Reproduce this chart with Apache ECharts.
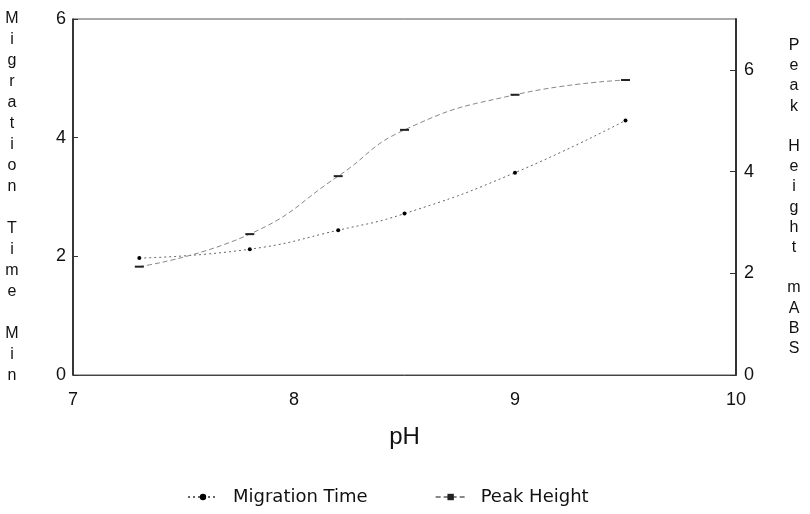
<!DOCTYPE html>
<html>
<head>
<meta charset="utf-8">
<script src="https://cdn.jsdelivr.net/npm/echarts@6/dist/echarts.min.js"></script>
<style>
html, body { margin: 0; padding: 0; background: #fff; }
#zoom { width: 810px; height: 514px; }
</style>
</head>
<body>
<div id="zoom"></div>
<script>
// x 轴数据
const phValues = [7.3, 7.8, 8.2, 8.5, 9.0, 9.5]
// 左轴: 迁移时间 (Min)
const migrationTime = [1.97, 2.12, 2.44, 2.72, 3.41, 4.29]
// 右轴: 峰高 (mABS)
const peakHeight = [2.13, 2.77, 3.91, 4.82, 5.51, 5.80]
// 坐标轴文字
const leftTitle = 'Migration Time Min'
const rightTitle = 'Peak Height mABS'

const FONT = 'Liberation Sans'

// 竖排文字: 每个字母一行, 单词之间空一行
const stack = (s) => s.split(' ').map(w => w.split('').join('\n')).join('\n\n')

const pairs = (ys) => phValues.map((x, i) => [x, ys[i]])

const myChart = echarts.init(document.getElementById('zoom'))

const option = {
    backgroundColor: '#fff',
    animation: false,
    textStyle: { fontFamily: FONT, color: '#111' },
    grid: {
        left: 73,
        right: 74,
        top: 13,
        bottom: 139,
        show: true,
        borderColor: '#555',
        borderWidth: 1
    },
    // 图例
    legend: {
        left: 182,
        top: 483,
        itemWidth: 30,
        itemHeight: 8,
        itemGap: 67,
        textStyle: { fontFamily: 'DejaVu Sans', fontSize: 18, color: '#111', padding: [0, 0, 0, 10] },
        data: ['Migration Time', 'Peak Height']
    },
    xAxis: {
        type: 'value',
        min: 7,
        max: 10,
        interval: 1,
        name: 'pH',
        nameLocation: 'middle',
        nameGap: 50,
        nameTextStyle: { fontFamily: FONT, fontSize: 24, color: '#111' },
        axisLine: { lineStyle: { color: '#444', width: 1 } },
        axisTick: { show: false },
        axisLabel: { fontFamily: FONT, fontSize: 18, margin: 16, color: '#111' },
        splitLine: { show: false }
    },
    yAxis: [
        {
            type: 'value',
            min: 0,
            max: 6,
            interval: 2,
            position: 'left',
            name: stack(leftTitle),
            nameLocation: 'middle',
            nameRotate: 0,
            nameGap: 61,
            nameTextStyle: { fontFamily: FONT, fontSize: 16, lineHeight: 21, align: 'center', color: '#111' },
            axisLine: { show: true, lineStyle: { color: '#111', width: 1.5 } },
            axisTick: { show: true, inside: true, length: 5, lineStyle: { color: '#333' } },
            axisLabel: { fontFamily: FONT, fontSize: 18, margin: 7, color: '#111' },
            splitLine: { show: false }
        },
        {
            type: 'value',
            min: 0,
            max: 7,
            interval: 2,
            position: 'right',
            name: stack(rightTitle),
            nameLocation: 'middle',
            nameRotate: 0,
            nameGap: 58,
            nameTextStyle: { fontFamily: FONT, fontSize: 16, lineHeight: 20.2, align: 'center', color: '#111' },
            axisLine: { show: true, lineStyle: { color: '#333', width: 2 } },
            axisTick: { show: true, inside: true, length: 6, lineStyle: { color: '#333' } },
            axisLabel: { fontFamily: FONT, fontSize: 18, margin: 8, color: '#111', showMaxLabel: false },
            splitLine: { show: false }
        }
    ],
    series: [
        {
            name: 'Migration Time',
            type: 'line',
            yAxisIndex: 0,
            smooth: true,
            symbol: 'circle',
            symbolSize: 4,
            itemStyle: { color: '#000' },
            lineStyle: { color: '#666', width: 1, type: [2, 3] },
            data: pairs(migrationTime)
        },
        {
            name: 'Peak Height',
            type: 'line',
            yAxisIndex: 1,
            smooth: true,
            symbol: 'rect',
            symbolSize: [9, 2],
            itemStyle: { color: '#222' },
            lineStyle: { color: '#888', width: 1, type: [5, 3] },
            data: pairs(peakHeight)
        }
    ]
}

myChart.setOption(option)
</script>
</body>
</html>
